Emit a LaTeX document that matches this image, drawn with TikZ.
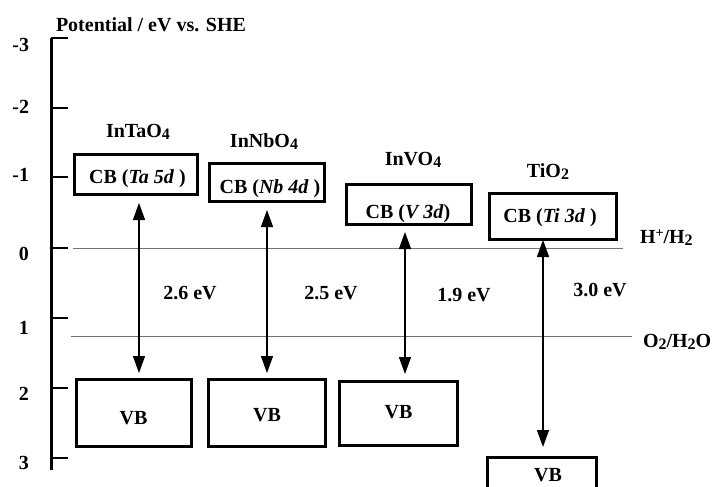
\documentclass[tikz,border=0pt]{standalone}
\usepackage{fontspec}
\setmainfont{Liberation Serif}
\usetikzlibrary{arrows.meta}
\newcommand\dn[1]{\raisebox{-0.3ex}{\fontsize{16}{16}\selectfont #1}}
\newcommand\upx[1]{\raisebox{0.6ex}{\fontsize{14}{14}\selectfont #1}}
\begin{document}
\begin{tikzpicture}[x=1pt,y=-1pt,
  txt/.style={font=\fontsize{20}{24}\selectfont\bfseries, inner sep=0pt, outer sep=0pt},
  band/.style={draw, line width=3pt, inner sep=0pt, outer sep=0pt},
  axisline/.style={line width=3pt},
  tick/.style={line width=2pt},
  refline/.style={draw=black!55, line width=1pt},
  gaparrow/.style={line width=1.3pt, {Triangle[length=17pt,width=12pt]}-{Triangle[length=17pt,width=12pt]}}]
\path[use as bounding box, clip] (0,0) rectangle (718,487);
% axis
\coordinate (axtop) at (51,38);
\coordinate (axbot) at (51,470);
\draw[axisline] (axtop) -- (axbot);
\foreach \y/\n in {38/a,108/b,177/c,248/d,318/e,388/f,458/g}{
  \coordinate (t\n) at (51,\y);
  \coordinate (te\n) at (68,\y);
  \draw[tick] (t\n) -- (te\n);
}
\node[txt, anchor=base east] (l1) at (29,51.5) {-3};
\node[txt, anchor=base east] (l2) at (29,113.5) {-2};
\node[txt, anchor=base east] (l3) at (29,181.5) {-1};
\node[txt, anchor=base east] (l4) at (29,260.5) {0};
\node[txt, anchor=base east] (l5) at (29,334.5) {1};
\node[txt, anchor=base east] (l6) at (29,400.5) {2};
\node[txt, anchor=base east] (l7) at (29,469.5) {3};
\node[txt, anchor=base west] (title) at (56,32) {Potential / eV vs. SHE};
% reference lines
\coordinate (h1) at (73,248);
\coordinate (h2) at (623,248);
\coordinate (o1) at (71,336);
\coordinate (o2) at (632,336);
\draw[refline] (h1) -- (h2);
\draw[refline] (o1) -- (o2);
\node[txt, anchor=base west] (hlab) at (640,243) {H\upx{+}/H\dn{2}};
\node[txt, anchor=base west] (olab) at (643,347) {O\dn{2}/H\dn{2}O};
% CB boxes
\node[band, minimum width=123, minimum height=40] (cb1) at (135.5,174) {};
\node[band, minimum width=115, minimum height=38] (cb2) at (266.5,182) {};
\node[band, minimum width=125, minimum height=40] (cb3) at (408.5,204) {};
\node[band, minimum width=127, minimum height=46] (cb4) at (552.5,216) {};
\node[txt, anchor=base] (cb1t) at (137.5,183) {CB (\textit{Ta 5d} )};
\node[txt, anchor=base] (cb2t) at (270,193) {CB (\textit{Nb 4d} )};
\node[txt, anchor=base] (cb3t) at (408,218) {CB (\textit{V 3d})};
\node[txt, anchor=base] (cb4t) at (550,222) {CB (\textit{Ti 3d} )};
% compound names
\node[txt, anchor=base] (n1) at (138,137) {InTaO\dn{4}};
\node[txt, anchor=base] (n2) at (264,147) {InNbO\dn{4}};
\node[txt, anchor=base] (n3) at (413,165) {InVO\dn{4}};
\node[txt, anchor=base] (n4) at (548,177) {TiO\dn{2}};
% VB boxes
\node[band, minimum width=115, minimum height=67] (vb1) at (133.5,412.5) {};
\node[band, minimum width=117, minimum height=67] (vb2) at (266.5,412.5) {};
\node[band, minimum width=118, minimum height=64] (vb3) at (398,413) {};
\node[band, minimum width=109, minimum height=66] (vb4) at (541.5,490) {};
\node[txt, anchor=base] (vb1t) at (133.5,424.5) {VB};
\node[txt, anchor=base] (vb2t) at (267,421.5) {VB};
\node[txt, anchor=base] (vb3t) at (398.5,418.5) {VB};
\node[txt, anchor=base] (vb4t) at (548,481.5) {VB};
% gap arrows
\coordinate (a1) at (139,0);
\coordinate (a2) at (267,0);
\coordinate (a3) at (405,0);
\coordinate (a4) at (543,0);
\draw[gaparrow, shorten <=9pt, shorten >=6pt] (cb1.south -| a1) -- (vb1.north -| a1);
\draw[gaparrow, shorten <=9pt, shorten >=6pt] (cb2.south -| a2) -- (vb2.north -| a2);
\draw[gaparrow, shorten <=8pt, shorten >=7pt] (cb3.south -| a3) -- (vb3.north -| a3);
\draw[gaparrow, shorten <=1pt, shorten >=10pt] (cb4.south -| a4) -- (vb4.north -| a4);
\node[txt] (g1) at (190,293) {2.6 eV};
\node[txt] (g2) at (331,293) {2.5 eV};
\node[txt] (g3) at (464,295) {1.9 eV};
\node[txt] (g4) at (600,290) {3.0 eV};
\end{tikzpicture}
\end{document}
